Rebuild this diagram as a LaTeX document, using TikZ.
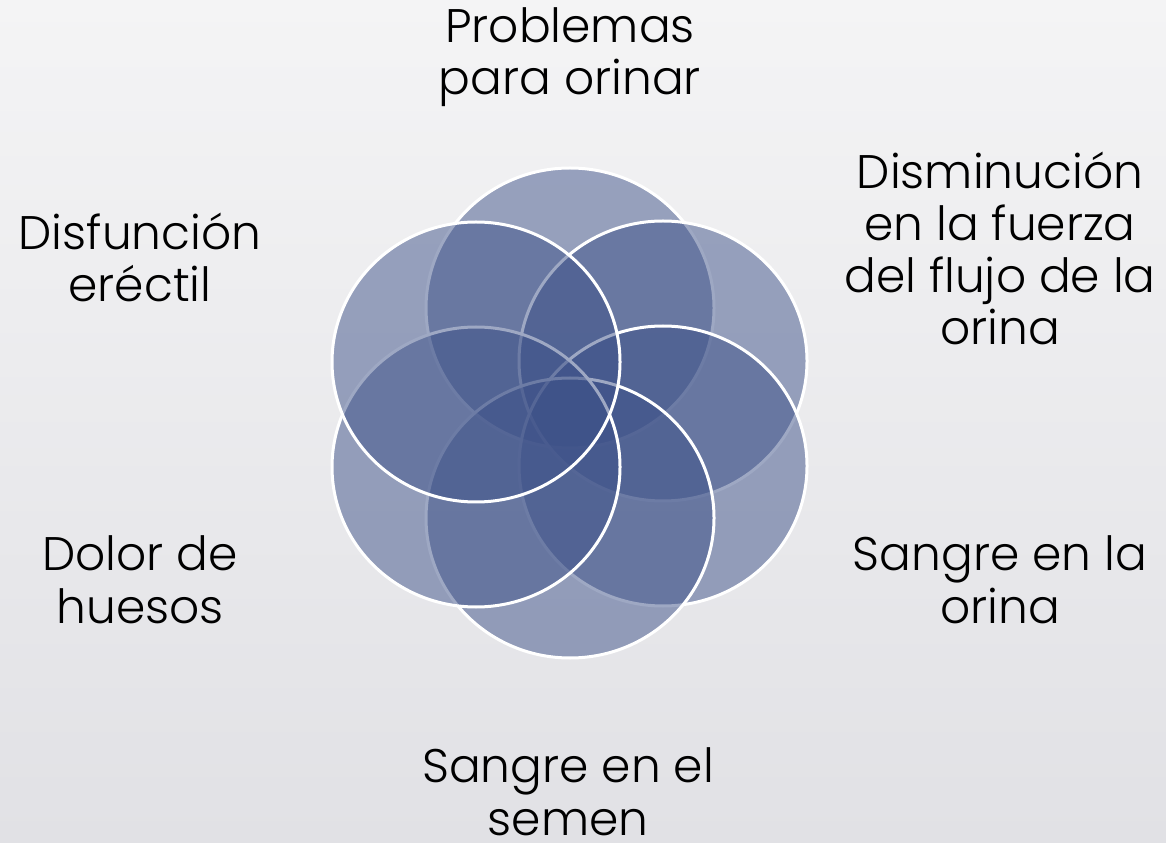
\documentclass[tikz,border=0pt]{standalone}
\usepackage{fontspec}
\setmainfont{Poppins}[UprightFont=* Light]
\definecolor{bgtop}{RGB}{244,244,245}
\definecolor{bgbottom}{RGB}{225,225,229}
\definecolor{petalblue}{RGB}{62,82,137}
\tikzset{
  petal/.style={fill=petalblue, fill opacity=0.5, draw=white, draw opacity=1, line width=0.3mm},
  symptom/.style={align=center, anchor=base, inner sep=0pt, text=black,
    font=\fontsize{13.4pt}{14.8pt}\selectfont}
}
\begin{document}
\begin{tikzpicture}[x=0.1mm, y=-0.1mm]
  %% page and background
  \useasboundingbox (0,0) rectangle (1166,843);
  \shade[top color=bgtop, bottom color=bgbottom] (0,0) rectangle (1166,843);

  %% overlapping circles
  \foreach \cx/\cy in {570/308, 663/361, 663/466, 570/518, 476/467, 476/362} {
    \draw[petal] (\cx,\cy) ellipse [x radius=14.4mm, y radius=14mm]; }

  %% symptoms (anchored at the baseline of the last line)
  \node[symptom] (orinar) at (570,95) {Problemas\\para orinar};
  \node[symptom] (flujo) at (1000,345) {Disminución\\en la fuerza\\del flujo de la\\orina};
  \node[symptom] (sangreorina) at (1000,623) {Sangre en la\\orina};
  \node[symptom] (semen) at (568,835) {Sangre en el\\semen};
  \node[symptom] (huesos) at (140,623) {Dolor de\\huesos};
  \node[symptom] (erectil) at (140,302) {Disfunción\\eréctil};
\end{tikzpicture}
\end{document}
